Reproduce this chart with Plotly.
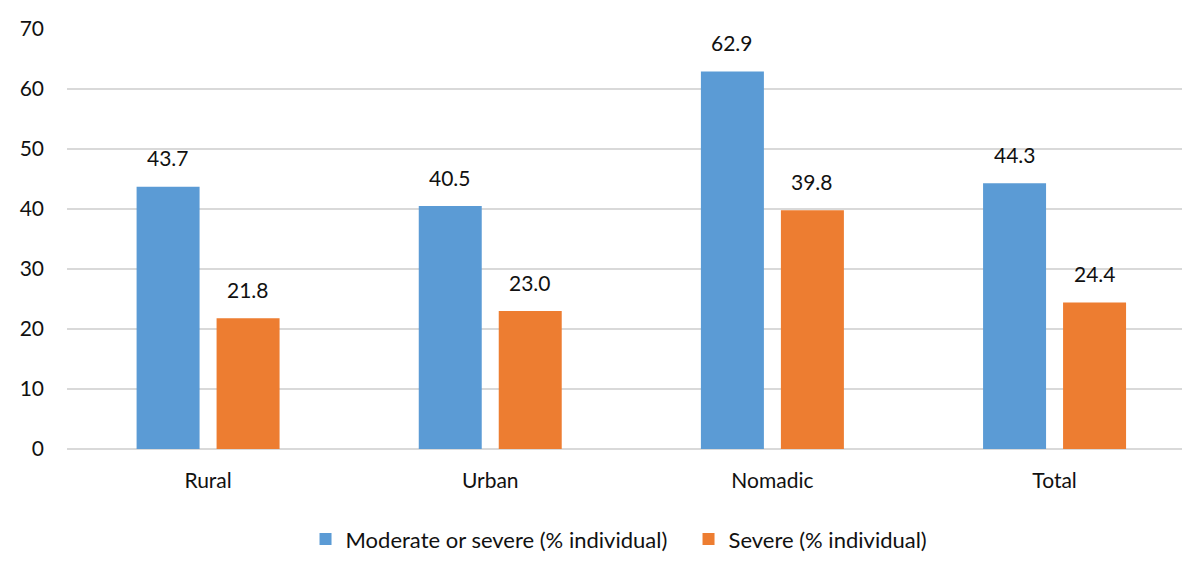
import plotly.graph_objects as go

categories = ["Rural", "Urban", "Nomadic", "Total"]
moderate_or_severe = [43.7, 40.5, 62.9, 44.3]
severe = [21.8, 23.0, 39.8, 24.4]
series_names = ["Moderate or severe (% individual)", "Severe (% individual)"]
colors = ["#5b9bd5", "#ed7d31"]
y_ticks = [0, 10, 20, 30, 40, 50, 60, 70]

FONT = "Lato, 'Open Sans', sans-serif"
TXT = "#111111"

fig = go.Figure()
for name, vals, col in zip(series_names, [moderate_or_severe, severe], colors):
    fig.add_trace(go.Bar(
        x=categories, y=vals, name=name,
        marker=dict(color=col, line=dict(width=0)),
    ))

annotations = []
for vals, shift in [(moderate_or_severe, -40), (severe, 40)]:
    for c, v in zip(categories, vals):
        annotations.append(dict(
            x=c, y=v, xref="x", yref="y", text=f"{v:.1f}",
            showarrow=False, xshift=shift, yshift=29,
            font=dict(family=FONT, size=21, color=TXT),
        ))

fig.update_layout(
    width=1190, height=568,
    margin=dict(l=59, r=8, t=21, b=127),
    paper_bgcolor="white", plot_bgcolor="white",
    barmode="group", bargap=0.433, bargroupgap=0.2125,
    font=dict(family=FONT, size=21, color=TXT),
    showlegend=True,
    legend=dict(orientation="h", x=0.2124, xanchor="left", y=-0.215, yanchor="middle",
                font=dict(family=FONT, size=22, color=TXT),
                entrywidth=338, entrywidthmode="pixels",
                itemwidth=30, tracegroupgap=0, traceorder="normal"),
    annotations=annotations,
)
fig.update_xaxes(
    range=[-0.5, 3.48], showgrid=False, showline=False, ticks="",
    ticklabelstandoff=17, tickfont=dict(family=FONT, size=21, color=TXT),
)
fig.update_yaxes(
    range=[0, 70], tickvals=y_ticks, showgrid=True, gridcolor="#d9d9d9", gridwidth=1.5,
    zeroline=True, zerolinecolor="#d9d9d9", zerolinewidth=1.5, showline=False, ticks="",
    ticklabelstandoff=22, tickfont=dict(family=FONT, size=21, color=TXT),
)

fig.write_html("out.html")
